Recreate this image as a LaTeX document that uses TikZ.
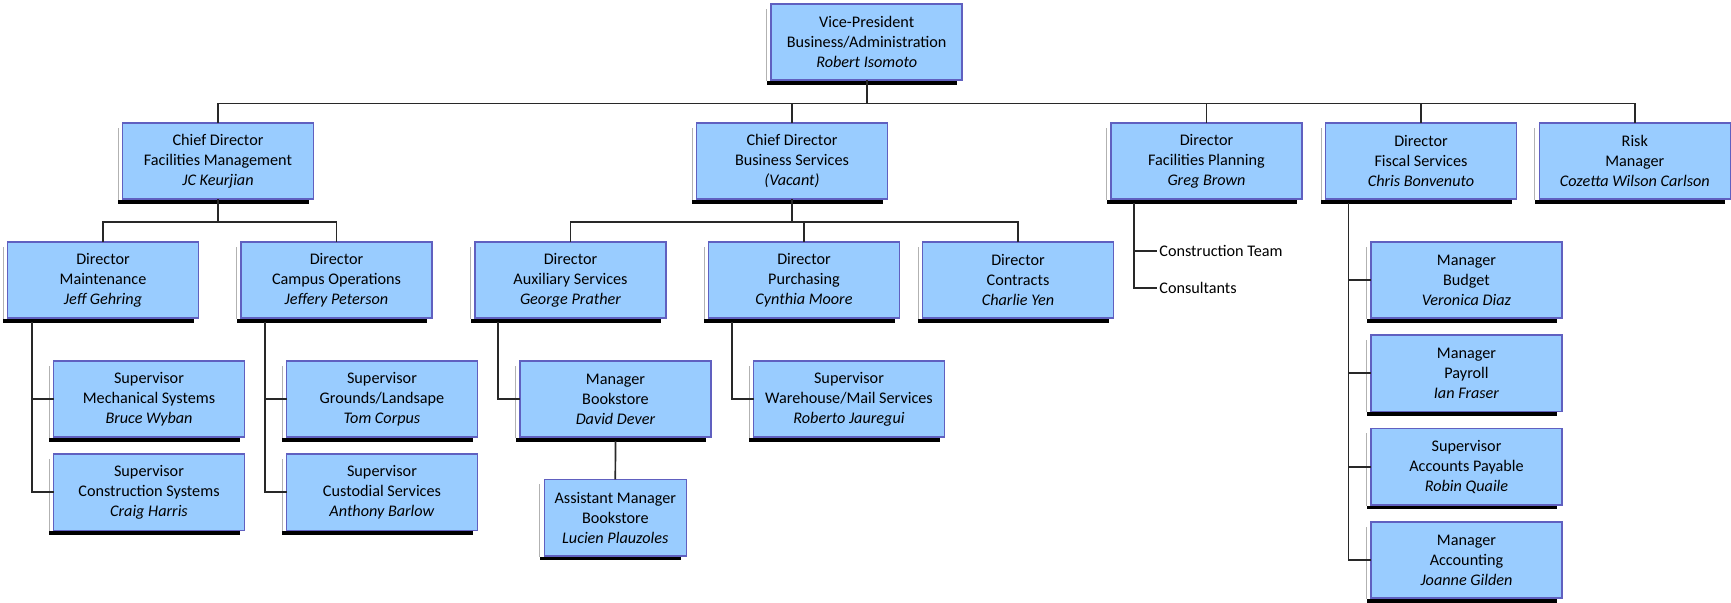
\documentclass[tikz,border=0pt]{standalone}
\usepackage{fontspec}
\setmainfont{Carlito}
\usetikzlibrary{calc}

\definecolor{boxfill}{RGB}{153,204,255}
\definecolor{boxline}{RGB}{96,96,192}
\definecolor{linkgray}{RGB}{40,40,40}

\tikzset{
  unit/.style={draw=boxline, fill=boxfill, line width=0.8pt, align=center,
    minimum width=95.5pt, minimum height=38.2pt, inner sep=1pt, outer sep=0pt,
    font=\fontsize{8.1}{10}\selectfont},
  smallunit/.style={unit, minimum width=71pt},
  link/.style={draw=linkgray, line width=0.85pt},
  plain/.style={anchor=west, inner sep=1pt, font=\fontsize{8.1}{10}\selectfont}
}

\begin{document}
\begin{tikzpicture}[x=0.5pt,y=-0.5pt]
        \useasboundingbox[fill=white] (0,0) rectangle (1731,603);
        % top
        \node[unit] (vp) at (866.7,42) {Vice-President\\Business/Administration\\\textit{Robert Isomoto}};
        % first level
        \node[unit] (fm) at (218,161) {Chief Director\\Facilities Management\\\textit{JC Keurjian}};
        \node[unit] (bs) at (792,161) {Chief Director\\Business Services\\\textit{(Vacant)}};
        \node[unit] (fp) at (1206.5,161) {Director\\Facilities Planning\\\textit{Greg Brown}};
        \node[unit] (fs) at (1421,161) {Director\\Fiscal Services\\\textit{Chris Bonvenuto}};
        \node[unit] (risk) at (1634.8,161) {Risk\\Manager\\\textit{Cozetta Wilson Carlson}};
        % second level
        \node[unit] (maint) at (103,280) {Director\\Maintenance\\\textit{Jeff Gehring}};
        \node[unit] (campus) at (336.5,280) {Director\\Campus Operations\\\textit{Jeffery Peterson}};
        \node[unit] (aux) at (570.5,280) {Director\\Auxiliary Services\\\textit{George Prather}};
        \node[unit] (purch) at (804,280) {Director\\Purchasing\\\textit{Cynthia Moore}};
        \node[unit] (contr) at (1018,280) {Director\\Contracts\\\textit{Charlie Yen}};
        \node[unit] (budget) at (1466.5,280) {Manager\\Budget\\\textit{Veronica Diaz}};
        % third level
        \node[unit] (mech) at (149,399) {Supervisor\\Mechanical Systems\\\textit{Bruce Wyban}};
        \node[unit] (csys) at (149,492.3) {Supervisor\\Construction Systems\\\textit{Craig Harris}};
        \node[unit] (grounds) at (382,399) {Supervisor\\Grounds/Landsape\\\textit{Tom Corpus}};
        \node[unit] (cust) at (382,492.3) {Supervisor\\Custodial Services\\\textit{Anthony Barlow}};
        \node[unit] (bookmgr) at (615.5,399) {Manager\\Bookstore\\\textit{David Dever}};
        \node[smallunit] (asst) at (615.3,517.7) {Assistant Manager\\Bookstore\\\textit{Lucien Plauzoles}};
        \node[unit] (wh) at (849,399) {Supervisor\\Warehouse/Mail Services\\\textit{Roberto Jauregui}};
        \node[unit] (payroll) at (1466.5,373.3) {Manager\\Payroll\\\textit{Ian Fraser}};
        \node[unit] (ap) at (1466.5,466.7) {Supervisor\\Accounts Payable\\\textit{Robin Quaile}};
        \node[unit] (acct) at (1466.5,560) {Manager\\Accounting\\\textit{Joanne Gilden}};
        % teams without boxes
        \node[plain] (team) at (1157,250.7) {Construction Team};
        \node[plain] (cons) at (1157,288.3) {Consultants};

        % shadows
        \foreach \n in {vp,fm,bs,fp,fs,risk,maint,campus,aux,purch,contr,budget,mech,csys,grounds,cust,bookmgr,asst,wh,payroll,ap,acct} {
          \fill[black] ($(\n.south west)+(-4.5,0.8)$) rectangle ($(\n.south east)+(-5,4.4)$);
          \draw[gray!60,line width=0.4pt] ($(\n.south west)+(-4.5,0.8)$) -- ($(\n.north west)+(-4.5,5)$);
        }

        % connectors
        \coordinate (vpbus) at (0,103.5);
        \coordinate (fmbus) at (0,222.3);
        \foreach \n in {fm,bs,fp,fs,risk}
          \draw[link] (vp.south) -- (vp.south |- vpbus) -| (\n.north);
        \foreach \n in {maint,campus}
          \draw[link] (fm.south) -- (fm.south |- fmbus) -| (\n.north);
        \foreach \n in {aux,purch,contr}
          \draw[link] (bs.south) -- (bs.south |- fmbus) -| (\n.north);
        \draw[link] ([xshift=12.2pt,yshift=-2pt]maint.south west) |- (mech.west);
        \draw[link] ([xshift=12.2pt,yshift=-2pt]maint.south west) |- (csys.west);
        \draw[link] ([xshift=12pt,yshift=-2pt]campus.south west) |- (grounds.west);
        \draw[link] ([xshift=12pt,yshift=-2pt]campus.south west) |- (cust.west);
        \draw[link] ([xshift=11.4pt,yshift=-2pt]aux.south west) |- (bookmgr.west);
        \draw[link] ([yshift=-2pt]bookmgr.south) -- (asst.north);
        \draw[link] ([xshift=11.7pt,yshift=-2pt]purch.south west) |- (wh.west);
        \draw[link] ([xshift=11.5pt,yshift=-2pt]fp.south west) |- (team.west);
        \draw[link] ([xshift=11.5pt,yshift=-2pt]fp.south west) |- (cons.west);
        \foreach \n in {budget,payroll,ap,acct}
          \draw[link] ([xshift=11.5pt,yshift=-2pt]fs.south west) |- (\n.west);
      \end{tikzpicture}
\end{document}
